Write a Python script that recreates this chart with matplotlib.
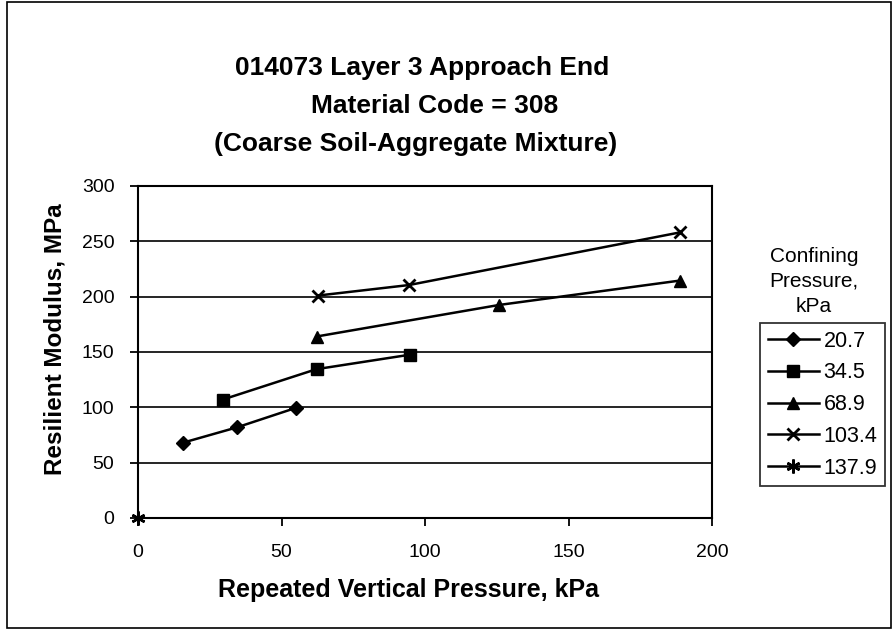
import numpy as np
import matplotlib.pyplot as plt
from matplotlib.patches import Rectangle

# confining pressure series (kPa) -> repeated vertical pressure vs resilient modulus
series_names = ['20.7', '34.5', '68.9', '103.4', '137.9']

x_20_7 = [15.6, 34.6, 55.0]
y_20_7 = [68, 82, 99.5]

x_34_5 = [29.5, 62.2, 94.6]
y_34_5 = [107, 134.5, 147.5]

x_68_9 = [62.2, 125.8, 188.7]
y_68_9 = [164, 192.5, 214.5]

x_103_4 = [62.7, 94.4, 188.7]
y_103_4 = [201, 210.5, 258]

x_137_9 = [0]
y_137_9 = [0]

plt.rcParams['font.family'] = ['Liberation Sans', 'DejaVu Sans']

W, H = 894, 635
fig = plt.figure(figsize=(8.94, 6.35), dpi=100)
ax = fig.add_axes([138/W, 1-518/H, (712-138)/W, (518-186)/H])

ax.plot(x_20_7, y_20_7, 'k-', marker='D', ms=7, lw=1.8, label=series_names[0])
ax.plot(x_34_5, y_34_5, 'k-', marker='s', ms=8.5, lw=1.8, label=series_names[1])
ax.plot(x_68_9, y_68_9, 'k-', marker='^', ms=9, lw=1.8, label=series_names[2])
ax.plot(x_103_4, y_103_4, 'k-', marker='x', ms=9, mew=2, lw=1.8, label=series_names[3])
ax.plot(x_137_9, y_137_9, 'k-', marker=(6, 2, 0), ms=10, mew=1.8, lw=1.8,
        label=series_names[4], clip_on=False)

ax.set_xlim(0, 200)
ax.set_ylim(0, 300)
ax.set_xticks([0, 50, 100, 150, 200])
ax.set_yticks([0, 50, 100, 150, 200, 250, 300])
ax.yaxis.grid(True, color='black', lw=1.2)
ax.set_axisbelow(True)
for s in ax.spines.values():
    s.set_linewidth(1.5)
ax.tick_params(direction='out', length=6, width=1.3, labelsize=14, colors='black')
ax.tick_params(axis='x', pad=13)
ax.tick_params(axis='y', pad=11)

ax.set_xlabel('Repeated Vertical Pressure, kPa', fontsize=18, fontweight='bold', va='center')
ax.xaxis.set_label_coords((409-138)/574, (518-590)/332)
ax.set_ylabel('Resilient Modulus, MPa', fontsize=17.5, fontweight='bold', va='center')
ax.yaxis.set_label_coords((55-138)/574, (518-339)/332)

fig.text(422/W, 1-68/H, '014073 Layer 3 Approach End', ha='center', va='center',
         fontsize=19, fontweight='bold')
fig.text(435/W, 1-106/H, 'Material Code = 308', ha='center', va='center',
         fontsize=19, fontweight='bold')
fig.text(416/W, 1-144/H, '(Coarse Soil-Aggregate Mixture)', ha='center', va='center',
         fontsize=19, fontweight='bold')

for txt, yy in [('Confining', 256), ('Pressure,', 281), ('kPa', 306)]:
    fig.text(814/W, 1-yy/H, txt, ha='center', va='center', fontsize=15)

leg = ax.legend(loc='upper left', bbox_to_anchor=(760/W, 1-323/H),
                bbox_transform=fig.transFigure, fontsize=15.5, frameon=True,
                fancybox=False, edgecolor='black', handlelength=2.4,
                handletextpad=0.2, labelspacing=0.5, borderpad=0.35,
                borderaxespad=0)
leg.get_frame().set_linewidth(1.3)

fig.add_artist(Rectangle((7/W, 1-628/H), 884/W, 626/H, transform=fig.transFigure,
                         fill=False, edgecolor='black', lw=1.2))

fig.savefig('out.png', dpi=100)
